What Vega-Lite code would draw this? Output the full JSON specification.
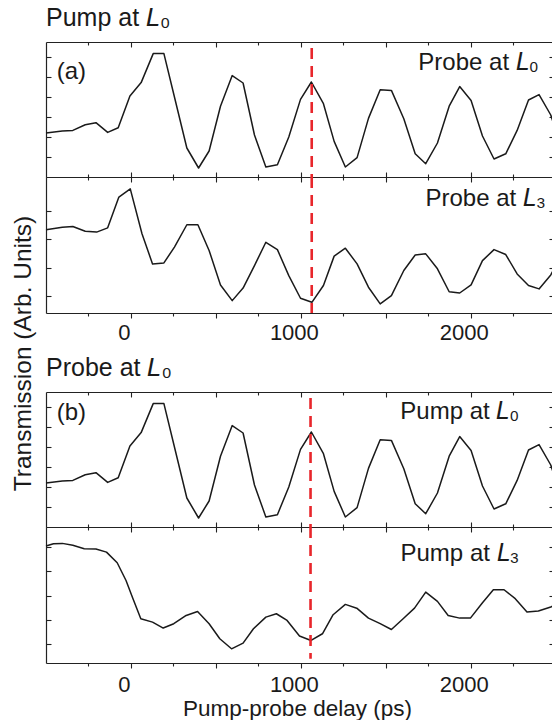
{
  "$schema": "https://vega.github.io/schema/vega-lite/v6.json",
  "background": "white",
  "padding": {"left": 9, "top": 6, "right": 0, "bottom": 0},
  "spacing": 0,
  "bounds": "flush",
  "config": {
    "view": {"stroke": null},
    "axis": {"domainColor": "#222222", "tickColor": "#222222", "domainWidth": 1.2, "tickWidth": 1.1, "grid": false, "labelFont": "Liberation Sans", "titleFont": "Liberation Sans", "labelColor": "#1a1a1a", "titleColor": "#1a1a1a", "titleFontWeight": "normal"},
    "text": {"font": "Liberation Sans"}
  },
  "datasets": {
    "ll": [
      {"t": -500, "v": 1.2}, {"t": -404, "v": 1.3}, {"t": -342, "v": 1.33}, {"t": -269, "v": 1.615}, {"t": -206, "v": 1.715}, {"t": -137, "v": 1.23}, {"t": -75, "v": 1.46}, {"t": -6, "v": 3.05}, {"t": 60, "v": 3.72}, {"t": 131, "v": 5.17}, {"t": 194, "v": 5.17}, {"t": 256, "v": 3.0}, {"t": 329, "v": 0.45}, {"t": 398, "v": -0.55}, {"t": 460, "v": 0.3}, {"t": 527, "v": 2.54}, {"t": 596, "v": 4.07}, {"t": 660, "v": 3.7}, {"t": 727, "v": 1.1}, {"t": 794, "v": -0.5}, {"t": 862, "v": -0.385}, {"t": 929, "v": 1.0}, {"t": 998, "v": 2.88}, {"t": 1062, "v": 3.75}, {"t": 1133, "v": 2.665}, {"t": 1196, "v": 0.78}, {"t": 1262, "v": -0.5}, {"t": 1331, "v": -0.03}, {"t": 1398, "v": 1.93}, {"t": 1467, "v": 3.365}, {"t": 1533, "v": 3.33}, {"t": 1606, "v": 1.915}, {"t": 1673, "v": 0.165}, {"t": 1735, "v": -0.335}, {"t": 1804, "v": 0.7}, {"t": 1873, "v": 2.54}, {"t": 1935, "v": 3.52}, {"t": 2002, "v": 2.83}, {"t": 2069, "v": 1.05}, {"t": 2137, "v": -0.1}, {"t": 2206, "v": 0.16}, {"t": 2273, "v": 1.33}, {"t": 2340, "v": 2.85}, {"t": 2402, "v": 3.12}, {"t": 2471, "v": 2.1}, {"t": 2490, "v": 1.6}
    ],
    "l3": [
      {"t": -500, "v": 2.34}, {"t": -404, "v": 2.435}, {"t": -342, "v": 2.46}, {"t": -269, "v": 2.29}, {"t": -202, "v": 2.26}, {"t": -137, "v": 2.41}, {"t": -71, "v": 3.5}, {"t": -4, "v": 3.79}, {"t": 65, "v": 2.2}, {"t": 127, "v": 1.135}, {"t": 194, "v": 1.17}, {"t": 256, "v": 1.73}, {"t": 329, "v": 2.52}, {"t": 394, "v": 2.52}, {"t": 460, "v": 1.61}, {"t": 527, "v": 0.39}, {"t": 596, "v": -0.165}, {"t": 660, "v": 0.28}, {"t": 727, "v": 1.075}, {"t": 794, "v": 1.9}, {"t": 862, "v": 1.64}, {"t": 929, "v": 0.72}, {"t": 998, "v": -0.08}, {"t": 1065, "v": -0.225}, {"t": 1133, "v": 0.37}, {"t": 1196, "v": 1.41}, {"t": 1262, "v": 1.69}, {"t": 1331, "v": 1.135}, {"t": 1398, "v": 0.31}, {"t": 1467, "v": -0.28}, {"t": 1533, "v": 0.01}, {"t": 1606, "v": 0.9}, {"t": 1673, "v": 1.45}, {"t": 1735, "v": 1.49}, {"t": 1804, "v": 0.96}, {"t": 1873, "v": 0.15}, {"t": 1935, "v": 0.105}, {"t": 2002, "v": 0.39}, {"t": 2069, "v": 1.25}, {"t": 2137, "v": 1.64}, {"t": 2206, "v": 1.465}, {"t": 2273, "v": 0.78}, {"t": 2340, "v": 0.37}, {"t": 2402, "v": 0.25}, {"t": 2471, "v": 0.745}, {"t": 2490, "v": 0.96}
    ],
    "p4": [
      {"t": -500, "v": 4.04}, {"t": -456, "v": 4.135}, {"t": -404, "v": 4.15}, {"t": -342, "v": 4.07}, {"t": -275, "v": 3.93}, {"t": -206, "v": 3.915}, {"t": -144, "v": 3.79}, {"t": -81, "v": 3.35}, {"t": -29, "v": 2.62}, {"t": 12, "v": 1.87}, {"t": 58, "v": 1.045}, {"t": 127, "v": 0.905}, {"t": 190, "v": 0.66}, {"t": 252, "v": 0.84}, {"t": 325, "v": 1.18}, {"t": 392, "v": 1.345}, {"t": 460, "v": 0.84}, {"t": 523, "v": 0.22}, {"t": 592, "v": -0.195}, {"t": 660, "v": 0.04}, {"t": 721, "v": 0.63}, {"t": 794, "v": 1.11}, {"t": 856, "v": 1.25}, {"t": 919, "v": 0.975}, {"t": 992, "v": 0.33}, {"t": 1060, "v": 0.15}, {"t": 1127, "v": 0.425}, {"t": 1190, "v": 1.21}, {"t": 1262, "v": 1.635}, {"t": 1329, "v": 1.48}, {"t": 1398, "v": 1.07}, {"t": 1467, "v": 0.84}, {"t": 1533, "v": 0.6}, {"t": 1602, "v": 1.045}, {"t": 1669, "v": 1.48}, {"t": 1735, "v": 2.14}, {"t": 1804, "v": 1.76}, {"t": 1867, "v": 1.18}, {"t": 1935, "v": 1.07}, {"t": 1998, "v": 1.07}, {"t": 2069, "v": 1.7}, {"t": 2133, "v": 2.24}, {"t": 2196, "v": 2.24}, {"t": 2262, "v": 1.87}, {"t": 2331, "v": 1.32}, {"t": 2398, "v": 1.36}, {"t": 2471, "v": 1.525}, {"t": 2490, "v": 1.6}
    ]
  },
  "vconcat": [
    {
      "width": 508, "height": 135,
      "title": {"text": "Pump at 𝘓₀", "anchor": "start", "frame": "group", "fontSize": 25, "fontWeight": "normal", "font": "Liberation Sans", "color": "#1a1a1a", "baseline": "alphabetic", "offset": -10},
      "resolve": {"axis": {"x": "independent", "y": "independent"}},
      "layer": [
        {
          "data": {"name": "ll"},
          "mark": {"type": "line", "color": "#1a1a1a", "strokeWidth": 1.5, "strokeJoin": "round"},
          "encoding": {
            "x": {"field": "t", "type": "quantitative", "scale": {"domain": [-500, 2490], "nice": false, "zero": false},
                  "axis": {"orient": "bottom", "values": [-250, 0, 250, 500, 750, 1000, 1250, 1500, 1750, 2000, 2250], "labels": false, "title": null, "domain": true, "tickSize": {"condition": {"test": "datum.value % 500 === 0", "value": -5}, "value": -3}}},
            "y": {"field": "v", "type": "quantitative", "scale": {"domain": [-1, 5.75], "nice": false, "zero": false},
                  "axis": {"orient": "left", "values": [0, 1, 2, 3, 4, 5], "labels": false, "title": null, "domain": true, "tickSize": -5}}
          }
        },
        {
          "data": {"values": [{"t": 1064}]},
          "mark": {"type": "rule", "color": "#e8262b", "strokeWidth": 2.6, "strokeDash": [11, 7]},
          "encoding": {
            "x": {"field": "t", "type": "quantitative",
                  "axis": {"orient": "top", "values": [-250, 0, 250, 500, 750, 1000, 1250, 1500, 1750, 2000, 2250], "labels": false, "title": null, "domain": true, "tickSize": {"condition": {"test": "datum.value % 500 === 0", "value": -5}, "value": -3}}},
            "y": {"datum": 5.45, "type": "quantitative",
                  "axis": {"orient": "right", "values": [0, 1, 2, 3, 4, 5], "labels": false, "title": null, "domain": false, "tickSize": -5}},
            "y2": {"datum": -1}
          }
        },
        {
          "data": {"values": [{"label": "(a)"}]},
          "mark": {"type": "text", "align": "left", "baseline": "alphabetic", "fontSize": 24, "color": "#1a1a1a"},
          "encoding": {"x": {"datum": -437, "type": "quantitative", "axis": null}, "y": {"datum": 3.89, "type": "quantitative", "axis": null}, "text": {"field": "label"}}
        },
        {
          "data": {"values": [{"label": "Probe at 𝘓₀"}]},
          "mark": {"type": "text", "align": "right", "baseline": "alphabetic", "fontSize": 24, "color": "#1a1a1a"},
          "encoding": {"x": {"datum": 2400, "type": "quantitative", "axis": null}, "y": {"datum": 4.33, "type": "quantitative", "axis": null}, "text": {"field": "label"}}
        }
      ]
    },
    {
      "width": 508, "height": 136,
      "resolve": {"axis": {"x": "independent", "y": "independent"}},
      "layer": [
        {
          "data": {"name": "l3"},
          "mark": {"type": "line", "color": "#1a1a1a", "strokeWidth": 1.5, "strokeJoin": "round"},
          "encoding": {
            "x": {"field": "t", "type": "quantitative", "scale": {"domain": [-500, 2490], "nice": false, "zero": false},
                  "axis": {"orient": "bottom", "values": [-250, 0, 250, 500, 750, 1000, 1250, 1500, 1750, 2000, 2250], "format": "d", "labelExpr": "datum.value % 1000 === 0 ? datum.label : ''", "labelOverlap": false, "labelFlush": false, "labelFontSize": 22, "labelBaseline": "alphabetic", "labelPadding": 21, "labelOffset": -7, "title": null, "domain": true, "tickSize": {"condition": {"test": "datum.value % 500 === 0", "value": 5}, "value": 3}}},
            "y": {"field": "v", "type": "quantitative", "scale": {"domain": [-0.603, 4.21], "nice": false, "zero": false},
                  "axis": {"orient": "left", "values": [0, 1, 2, 3], "labels": false, "domain": true, "tickSize": -5,
                           "title": "Transmission (Arb. Units)", "titleFontSize": 24.5, "titleAngle": 270, "titleAlign": "center", "titleBaseline": "alphabetic", "titleX": -16, "titleY": 176}}
          }
        },
        {
          "data": {"values": [{"t": 1064}]},
          "mark": {"type": "rule", "color": "#e8262b", "strokeWidth": 2.6, "strokeDash": [11, 7]},
          "encoding": {
            "x": {"field": "t", "type": "quantitative",
                  "axis": {"orient": "top", "values": [-250, 0, 250, 500, 750, 1000, 1250, 1500, 1750, 2000, 2250], "labels": false, "title": null, "domain": true, "tickSize": {"condition": {"test": "datum.value % 500 === 0", "value": -5}, "value": -3}}},
            "y": {"datum": 4.21, "type": "quantitative",
                  "axis": {"orient": "right", "values": [0, 1, 2, 3], "labels": false, "title": null, "domain": false, "tickSize": -5}},
            "y2": {"datum": -0.603}
          }
        },
        {
          "data": {"values": [{"label": "Probe at 𝘓₃"}]},
          "mark": {"type": "text", "align": "right", "baseline": "alphabetic", "fontSize": 24, "color": "#1a1a1a"},
          "encoding": {"x": {"datum": 2441, "type": "quantitative", "axis": null}, "y": {"datum": 3.2, "type": "quantitative", "axis": null}, "text": {"field": "label"}}
        }
      ]
    },
    {
      "width": 508, "height": 79,
      "data": {"values": [{"s": 0}]},
      "mark": {"type": "point", "opacity": 0},
      "encoding": {}
    },
    {
      "width": 508, "height": 135,
      "title": {"text": "Probe at 𝘓₀", "anchor": "start", "frame": "group", "fontSize": 25, "fontWeight": "normal", "font": "Liberation Sans", "color": "#1a1a1a", "baseline": "alphabetic", "offset": -10},
      "resolve": {"axis": {"x": "independent", "y": "independent"}},
      "layer": [
        {
          "data": {"name": "ll"},
          "mark": {"type": "line", "color": "#1a1a1a", "strokeWidth": 1.5, "strokeJoin": "round"},
          "encoding": {
            "x": {"field": "t", "type": "quantitative", "scale": {"domain": [-500, 2490], "nice": false, "zero": false},
                  "axis": {"orient": "bottom", "values": [-250, 0, 250, 500, 750, 1000, 1250, 1500, 1750, 2000, 2250], "labels": false, "title": null, "domain": true, "tickSize": {"condition": {"test": "datum.value % 500 === 0", "value": -5}, "value": -3}}},
            "y": {"field": "v", "type": "quantitative", "scale": {"domain": [-1, 5.75], "nice": false, "zero": false},
                  "axis": {"orient": "left", "values": [0, 1, 2, 3, 4, 5], "labels": false, "title": null, "domain": true, "tickSize": -5}}
          }
        },
        {
          "data": {"values": [{"t": 1057}]},
          "mark": {"type": "rule", "color": "#e8262b", "strokeWidth": 2.6, "strokeDash": [11, 7]},
          "encoding": {
            "x": {"field": "t", "type": "quantitative",
                  "axis": {"orient": "top", "values": [-250, 0, 250, 500, 750, 1000, 1250, 1500, 1750, 2000, 2250], "labels": false, "title": null, "domain": true, "tickSize": {"condition": {"test": "datum.value % 500 === 0", "value": -5}, "value": -3}}},
            "y": {"datum": 5.45, "type": "quantitative",
                  "axis": {"orient": "right", "values": [0, 1, 2, 3, 4, 5], "labels": false, "title": null, "domain": false, "tickSize": -5}},
            "y2": {"datum": -1}
          }
        },
        {
          "data": {"values": [{"label": "(b)"}]},
          "mark": {"type": "text", "align": "left", "baseline": "alphabetic", "fontSize": 24, "color": "#1a1a1a"},
          "encoding": {"x": {"datum": -437, "type": "quantitative", "axis": null}, "y": {"datum": 4.365, "type": "quantitative", "axis": null}, "text": {"field": "label"}}
        },
        {
          "data": {"values": [{"label": "Pump at 𝘓₀"}]},
          "mark": {"type": "text", "align": "right", "baseline": "alphabetic", "fontSize": 24, "color": "#1a1a1a"},
          "encoding": {"x": {"datum": 2286, "type": "quantitative", "axis": null}, "y": {"datum": 4.415, "type": "quantitative", "axis": null}, "text": {"field": "label"}}
        }
      ]
    },
    {
      "width": 508, "height": 136,
      "resolve": {"axis": {"x": "independent", "y": "independent"}},
      "layer": [
        {
          "data": {"name": "p4"},
          "mark": {"type": "line", "color": "#1a1a1a", "strokeWidth": 1.5, "strokeJoin": "round"},
          "encoding": {
            "x": {"field": "t", "type": "quantitative", "scale": {"domain": [-500, 2490], "nice": false, "zero": false},
                  "axis": {"orient": "bottom", "values": [-250, 0, 250, 500, 750, 1000, 1250, 1500, 1750, 2000, 2250], "format": "d", "labelExpr": "datum.value % 1000 === 0 ? datum.label : ''", "labelOverlap": false, "labelFlush": false, "labelFontSize": 22, "labelBaseline": "alphabetic", "labelPadding": 23, "labelOffset": -7, "domain": true, "tickSize": {"condition": {"test": "datum.value % 500 === 0", "value": 5}, "value": 3},
                           "title": "Pump-probe delay (ps)", "titleFontSize": 22.5, "titleAlign": "center", "titleBaseline": "alphabetic", "titleX": 251, "titleY": 52}},
            "y": {"field": "v", "type": "quantitative", "scale": {"domain": [-0.78, 4.825], "nice": false, "zero": false},
                  "axis": {"orient": "left", "values": [0, 1, 2, 3, 4], "labels": false, "title": null, "domain": true, "tickSize": -5}}
          }
        },
        {
          "data": {"values": [{"t": 1057}]},
          "mark": {"type": "rule", "color": "#e8262b", "strokeWidth": 2.6, "strokeDash": [11, 7]},
          "encoding": {
            "x": {"field": "t", "type": "quantitative",
                  "axis": {"orient": "top", "values": [-250, 0, 250, 500, 750, 1000, 1250, 1500, 1750, 2000, 2250], "labels": false, "title": null, "domain": true, "tickSize": {"condition": {"test": "datum.value % 500 === 0", "value": -5}, "value": -3}}},
            "y": {"datum": 4.825, "type": "quantitative",
                  "axis": {"orient": "right", "values": [0, 1, 2, 3, 4], "labels": false, "title": null, "domain": false, "tickSize": -5}},
            "y2": {"datum": -0.6}
          }
        },
        {
          "data": {"values": [{"label": "Pump at 𝘓₃"}]},
          "mark": {"type": "text", "align": "right", "baseline": "alphabetic", "fontSize": 24, "color": "#1a1a1a"},
          "encoding": {"x": {"datum": 2286, "type": "quantitative", "axis": null}, "y": {"datum": 3.41, "type": "quantitative", "axis": null}, "text": {"field": "label"}}
        }
      ]
    }
  ]
}
